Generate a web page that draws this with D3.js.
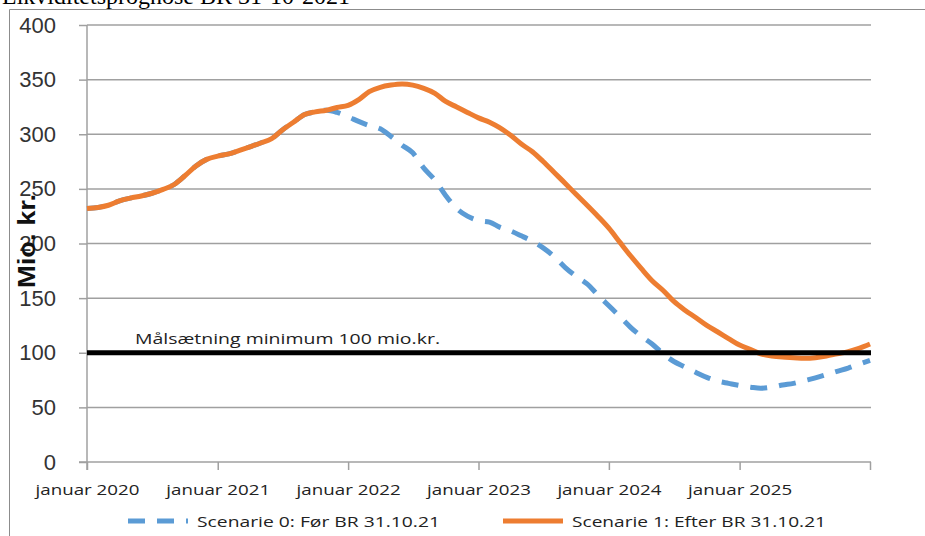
<!DOCTYPE html>
<html>
<head>
<meta charset="utf-8">
<script src="https://cdn.jsdelivr.net/npm/d3@7"></script>
<style>
  body { margin: 0; background: #fff; }
  svg { display: block; }
</style>
</head>
<body>
<div id="chart"></div>
<script>
// monthly values, Jan 2020 .. Jan 2026 (mio. kr.)
var scenario1 = [232, 233, 235, 239, 241.5, 243.5, 246, 249.5, 254, 262, 271, 277,
  280, 282, 285, 288.5, 292, 296, 304, 311, 318, 320.5, 322, 324.5,
  326.5, 332, 339, 343, 345, 346, 345, 342, 337.5, 330, 325, 320,
  315, 311, 306, 299, 291, 284, 275, 265, 255, 245, 235, 225,
  214, 201, 189, 177, 166, 157, 147, 139, 132, 125, 119, 113,
  107, 103, 99, 97, 96, 95.5, 95, 95.5, 97, 99, 101, 104,
  108];
var scenario0 = [232, 233, 235, 239, 241.5, 243.5, 246, 249.5, 254, 262, 271, 277,
  280, 282, 285, 288.5, 292, 296, 304, 311, 318, 320.5, 322, 320,
  316, 311.5, 308, 305, 298, 290, 283, 269, 258, 244, 232, 225,
  221, 219.5, 215, 211.5, 207, 202, 196, 188, 178, 170, 163, 153,
  143, 133, 123.5, 115, 108, 99, 92, 87, 82, 77.5, 74, 72,
  70, 68.5, 67.5, 68.5, 70.5, 72, 74.5, 77, 80, 83, 86, 89.5,
  93];
var yearTicks = [2020, 2021, 2022, 2023, 2024, 2025, 2026];
var yTicks = [0, 50, 100, 150, 200, 250, 300, 350, 400];
var target = 100;
var seriesNames = ['Scenarie 0: Før BR 31.10.21', 'Scenarie 1: Efter BR 31.10.21'];

(function(){
  var width = 925,
      height = 536;

  var svg = d3.select('#chart')
    .append('svg')
    .attr('width', width)
    .attr('height', height)

  var start = new Date(2020, 0, 1);
  function monthDate(i) { return d3.timeMonth.offset(start, i) }

  var x = d3.scaleTime()
    .domain([start, new Date(2026, 0, 1)])
    .range([87, 870])

  var y = d3.scaleLinear()
    .domain([0, 400])
    .range([462, 25])

  // title, cut off at the top like the reference
  svg.append('text')
    .attr('x', 2)
    .attr('y', 4)
    .attr('font-family', 'Liberation Serif, serif')
    .attr('font-size', 24)
    .text('Likviditetsprognose BR 31-10-2021')

  // frame
  svg.append('path')
    .attr('d', 'M9.5,' + height + 'V9.5H' + width)
    .attr('fill', 'none')
    .attr('stroke', '#8c8c8c')
    .attr('stroke-width', 1)

  // gridlines
  svg.append('g')
    .selectAll('line')
    .data(yTicks.filter(function(d){ return d > 0 }))
    .enter().append('line')
    .attr('x1', 87)
    .attr('x2', 871)
    .attr('y1', function(d){ return y(d) })
    .attr('y2', function(d){ return y(d) })
    .attr('stroke', '#a0a0a0')
    .attr('stroke-width', 1.5)

  // y axis
  var yAxis = svg.append('g')
    .attr('transform', 'translate(87,0)')
    .call(d3.axisLeft(y).tickValues(yTicks).tickSize(8).tickPadding(23))
  yAxis.select('.domain').attr('stroke', '#a0a0a0').attr('stroke-width', 1.5)
    .attr('d', 'M0,' + y(400) + 'V470')
  yAxis.selectAll('.tick line').attr('stroke', '#a0a0a0').attr('stroke-width', 1.5)
  yAxis.selectAll('.tick text')
    .attr('font-family', 'Liberation Sans, Arial, sans-serif')
    .attr('font-size', 22)
    .attr('fill', '#333')

  // x axis
  var xAxis = svg.append('g')
    .attr('transform', 'translate(0,' + y(0) + ')')
    .call(d3.axisBottom(x)
      .tickValues(yearTicks.map(function(d){ return new Date(d, 0, 1) }))
      .tickSize(8)
      .tickPadding(14)
      .tickFormat(function(d){ return d.getFullYear() < 2026 ? 'januar ' + d.getFullYear() : '' }))
  xAxis.select('.domain').attr('stroke', '#a0a0a0').attr('stroke-width', 1.5)
    .attr('d', 'M79,0H871')
  xAxis.selectAll('.tick line').attr('stroke', '#a0a0a0').attr('stroke-width', 1.5)
  xAxis.selectAll('.tick text')
    .attr('font-family', 'Open Sans, sans-serif')
    .attr('font-size', 15)
    .attr('fill', '#222')
    .attr('textLength', 104)
    .attr('lengthAdjust', 'spacingAndGlyphs')

  // y title
  svg.append('text')
    .attr('transform', 'translate(35,241) rotate(-90)')
    .attr('text-anchor', 'middle')
    .attr('font-family', 'Liberation Sans, Arial, sans-serif')
    .attr('font-weight', 'bold')
    .attr('font-size', 24)
    .attr('fill', '#111')
    .attr('textLength', 94)
    .attr('lengthAdjust', 'spacingAndGlyphs')
    .text('Mio. kr.')

  var line = d3.line()
    .x(function(d, i){ return x(monthDate(i)) })
    .y(function(d){ return y(d) })
    .curve(d3.curveMonotoneX)

  svg.append('path')
    .datum(scenario0)
    .attr('d', line)
    .attr('fill', 'none')
    .attr('stroke', '#5b9bd5')
    .attr('stroke-width', 5)
    .attr('stroke-dasharray', '17,12')

  svg.append('path')
    .datum(scenario1)
    .attr('d', line)
    .attr('fill', 'none')
    .attr('stroke', '#ed7d31')
    .attr('stroke-width', 5)

  // target line
  svg.append('line')
    .attr('x1', 87)
    .attr('x2', 871)
    .attr('y1', y(target))
    .attr('y2', y(target))
    .attr('stroke', '#000')
    .attr('stroke-width', 5)

  svg.append('text')
    .attr('x', 135)
    .attr('y', y(target) - 9)
    .attr('font-family', 'Open Sans, sans-serif')
    .attr('font-size', 15)
    .attr('fill', '#222')
    .attr('textLength', 305)
    .attr('lengthAdjust', 'spacingAndGlyphs')
    .text('Målsætning minimum ' + target + ' mio.kr.')

  // legend
  var legend = [
    { name: seriesNames[0], x: 128, color: '#5b9bd5', dash: '17,12', textX: 197, len: 243 },
    { name: seriesNames[1], x: 503, color: '#ed7d31', dash: null, textX: 572, len: 254 }
  ]
  var lg = svg.append('g')
    .selectAll('g')
    .data(legend)
    .enter().append('g')
  lg.append('line')
    .attr('x1', function(d){ return d.x })
    .attr('x2', function(d){ return d.x + 60 })
    .attr('y1', 521)
    .attr('y2', 521)
    .attr('stroke', function(d){ return d.color })
    .attr('stroke-width', 5)
    .attr('stroke-dasharray', function(d){ return d.dash })
  lg.append('text')
    .attr('x', function(d){ return d.textX })
    .attr('y', 527)
    .attr('font-family', 'Open Sans, sans-serif')
    .attr('font-size', 15)
    .attr('fill', '#222')
    .attr('textLength', function(d){ return d.len })
    .attr('lengthAdjust', 'spacingAndGlyphs')
    .text(function(d){ return d.name })
})()
</script>
</body>
</html>
